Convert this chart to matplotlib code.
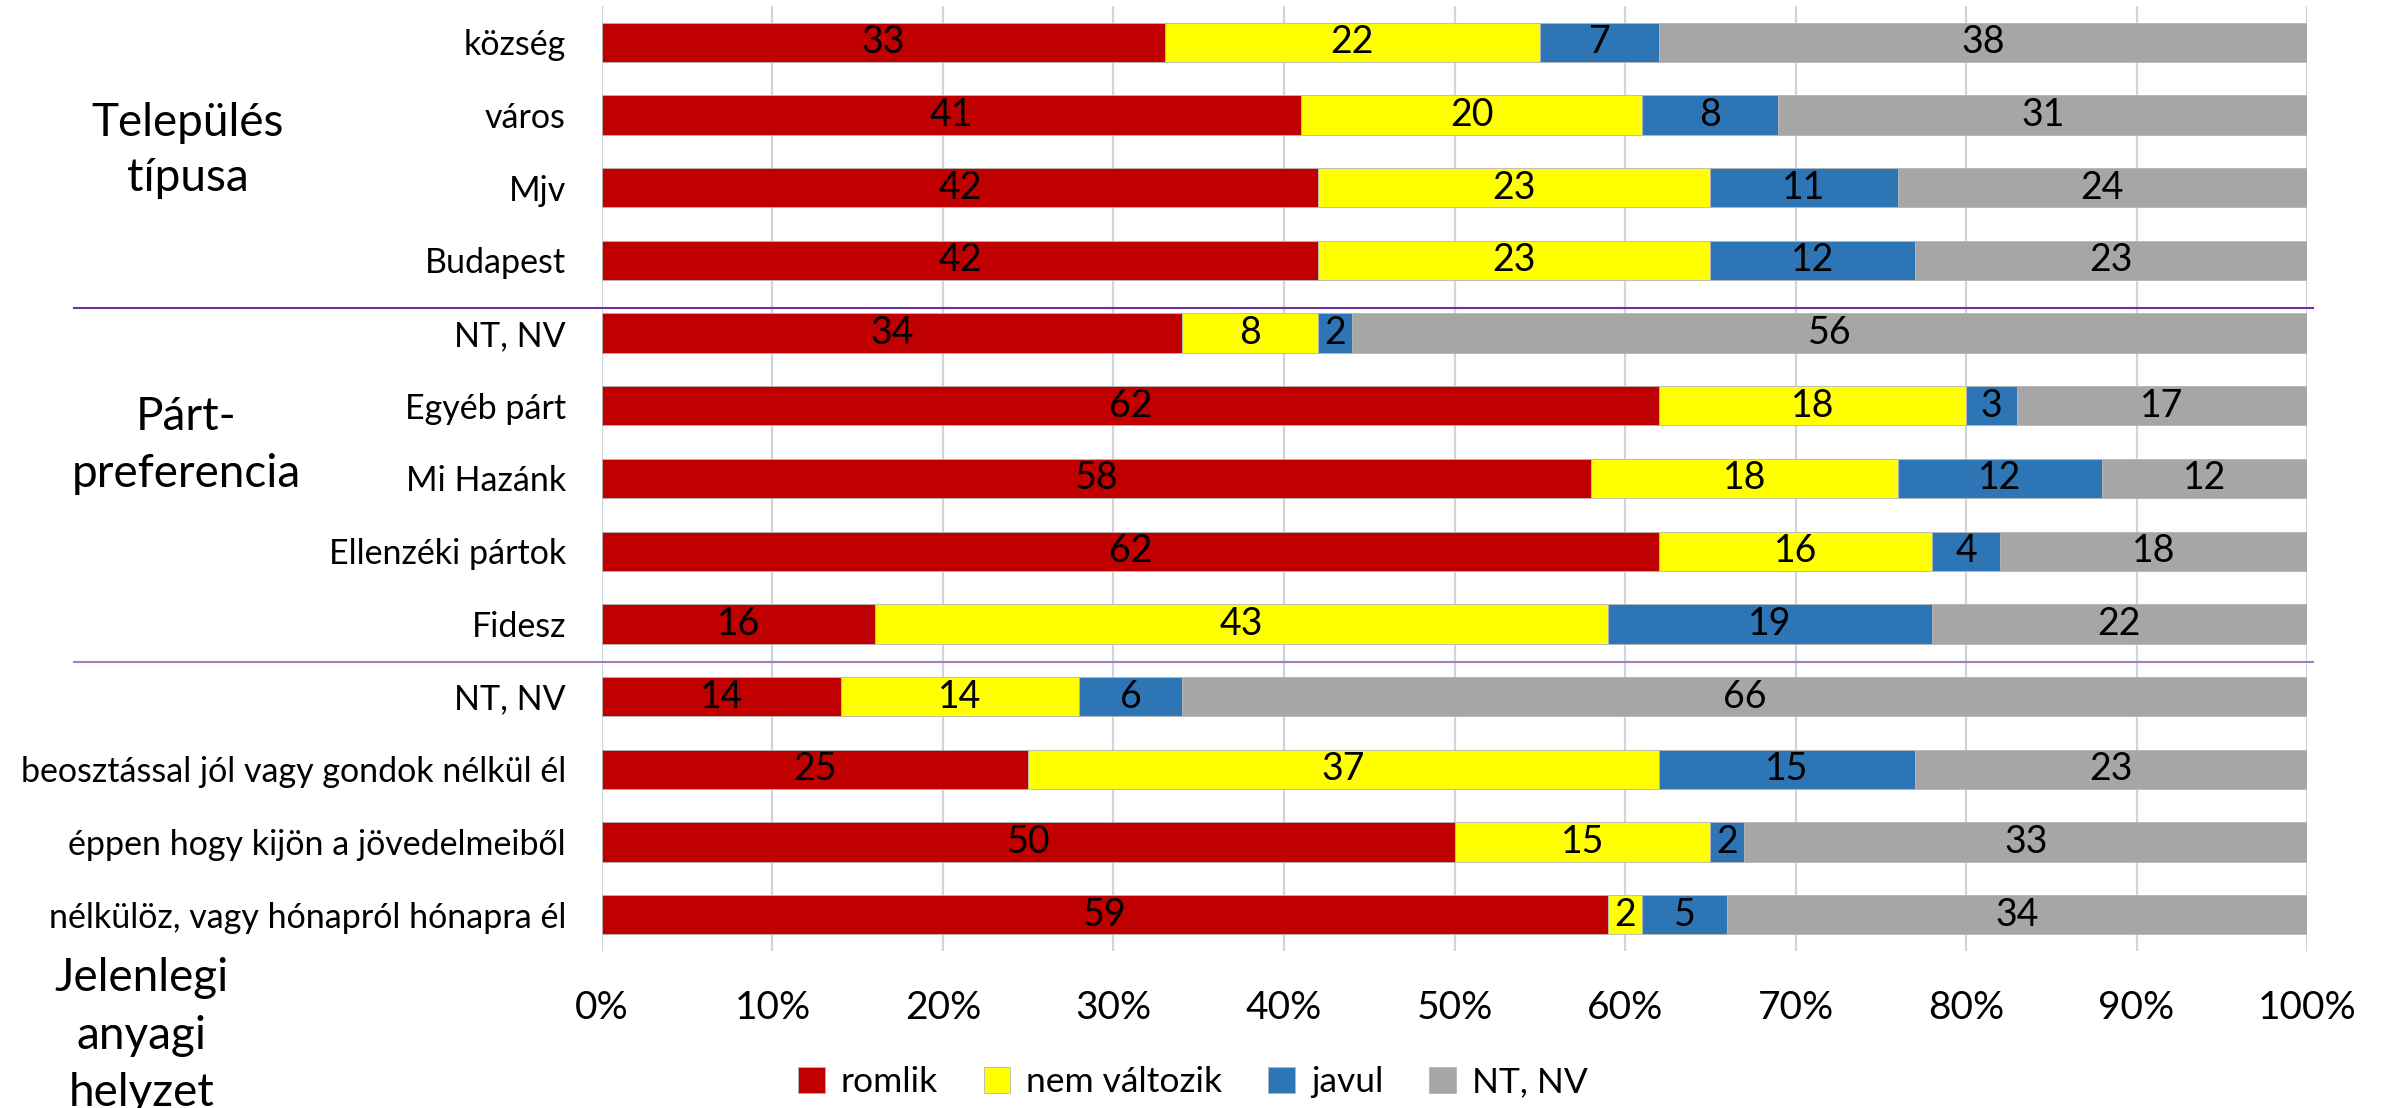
import numpy as np
import matplotlib
matplotlib.use("Agg")
import matplotlib.pyplot as plt
import matplotlib.transforms as mtransforms
from matplotlib.lines import Line2D

plt.rcParams['font.family'] = ['Lato', 'DejaVu Sans']

# 数据（从上到下）
categories = ['község', 'város', 'Mjv', 'Budapest',
              'NT, NV', 'Egyéb párt', 'Mi Hazánk', 'Ellenzéki pártok', 'Fidesz',
              'NT, NV', 'beosztással jól vagy gondok nélkül él',
              'éppen hogy kijön a jövedelmeiből', 'nélkülöz, vagy hónapról hónapra él']
romlik = [33, 41, 42, 42, 34, 62, 58, 62, 16, 14, 25, 50, 59]
nem_valtozik = [22, 20, 23, 23, 8, 18, 18, 16, 43, 14, 37, 15, 2]
javul = [7, 8, 11, 12, 2, 3, 12, 4, 19, 6, 15, 2, 5]
nt_nv = [38, 31, 24, 23, 56, 17, 12, 18, 22, 66, 23, 33, 34]

series_names = ['romlik', 'nem változik', 'javul', 'NT, NV']
colors = ['#C00000', '#FFFF00', '#2E75B6', '#A6A6A6']

group_labels = ['Település\ntípusa', 'Párt-\npreferencia', 'Jelenlegi\nanyagi\nhelyzet']
group_sizes = [4, 5, 4]
xticks = np.arange(0, 101, 10)

fig = plt.figure(figsize=(23.86, 11.08), dpi=100)
ax = fig.add_axes([0.2523, 0.1417, 0.7146, 0.8529])

y = np.arange(len(categories))
left = np.zeros(len(categories))
for name, vals, col in zip(series_names, [romlik, nem_valtozik, javul, nt_nv], colors):
    bars = ax.barh(y, vals, left=left, height=0.54, color=col,
                   edgecolor='#B5B5B5', linewidth=0.6, label=name, zorder=2)
    ax.bar_label(bars, labels=[str(v) for v in vals], label_type='center',
                 fontsize=27, color='black')
    left += np.array(vals)

ax.set_ylim(len(categories) - 0.5, -0.5)
ax.set_xlim(0, 100)
ax.set_yticks(y)
ax.set_yticklabels(categories, fontsize=24.5)
ax.set_xticks(xticks)
ax.set_xticklabels([f'{t}%' for t in xticks], fontsize=28)
ax.tick_params(axis='y', length=0, pad=26)
ax.tick_params(axis='x', length=0, pad=28)

# 网格线
ax.xaxis.grid(True, color='#D0D3D9', linewidth=1.6, zorder=0)
ax.set_axisbelow(True)
for s in ax.spines.values():
    s.set_visible(False)

# 分组分隔线
trans = mtransforms.blended_transform_factory(fig.transFigure, ax.transData)
bounds = np.cumsum(group_sizes)[:-1] - 0.5
sep_offsets = [0.155, 0.02]
sep_colors = ['#7030A0', '#A07CC5']
for b, off, c in zip(bounds, sep_offsets, sep_colors):
    ax.add_line(Line2D([0.031, 0.9694], [b + off, b + off], transform=trans,
                       color=c, linewidth=1.5, clip_on=False))

# 分组标题
fig.text(0.0788, 0.864, group_labels[0], fontsize=33, ha='center', va='center', linespacing=1.4)
fig.text(0.078, 0.598, group_labels[1], fontsize=33, ha='center', va='center', linespacing=1.45)
fig.text(0.0595, 0.136, group_labels[2], fontsize=33, ha='center', va='top', linespacing=1.45)

# 图例
fig.legend(loc='center', bbox_to_anchor=(0.5, 0.0235), ncol=4, frameon=False,
           fontsize=25.5, handlelength=0.75, handleheight=0.75, handletextpad=0.45,
           columnspacing=1.3)

fig.savefig('out.png', dpi=100)
